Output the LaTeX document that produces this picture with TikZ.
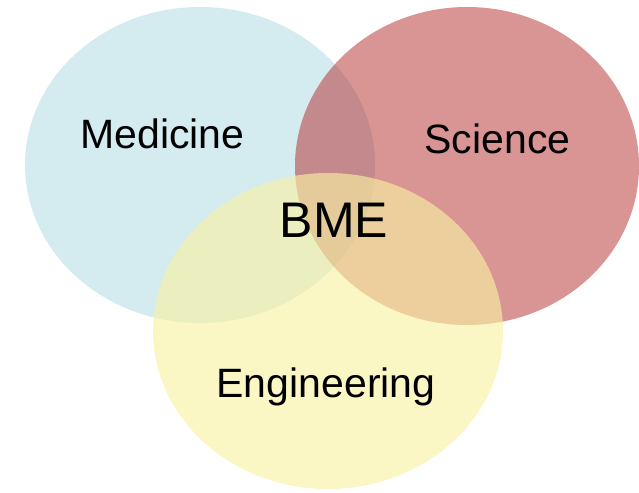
\documentclass[tikz,border=0pt]{standalone}
\usepackage{fontspec}
\setmainfont{Liberation Sans}
\definecolor{medblue}{RGB}{212,235,240}
\definecolor{scired}{RGB}{179,41,41}
\definecolor{engyel}{RGB}{249,242,163}
\begin{document}
\begin{tikzpicture}[x=1pt,y=-1pt,
  lbl/.style={anchor=base,inner sep=0pt,text=black,font=\fontsize{41}{48}\selectfont}]
\useasboundingbox (0,0) rectangle (639,492);
\fill[medblue] (200,165) ellipse [x radius=175, y radius=158];
\fill[scired,fill opacity=0.5] (467,166) ellipse [x radius=172, y radius=159];
\fill[engyel,fill opacity=0.63] (328,331) ellipse [x radius=175, y radius=158];
\node[lbl] (med) at (162.5,148) {Medicine};
\node[lbl] (sci) at (497.5,153) {Science};
\node[lbl,font=\fontsize{50}{58}\selectfont] (bme) at (334,237) {BME};
\node[lbl] (eng) at (326,397) {Engineering};
\end{tikzpicture}
\end{document}
